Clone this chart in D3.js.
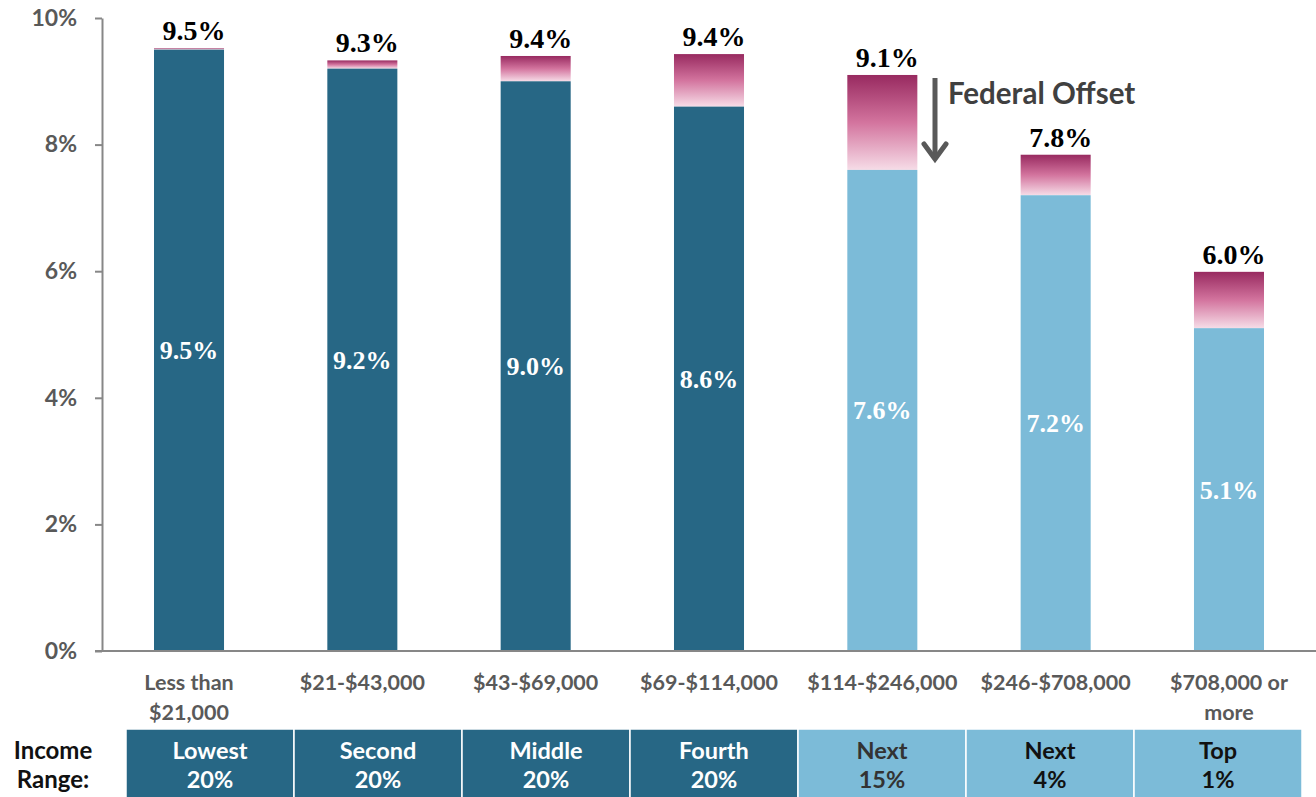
<!DOCTYPE html>
<html>
<head>
<meta charset="utf-8">
<script src="https://cdn.jsdelivr.net/npm/d3@7"></script>
<style>
	body { margin: 0; background: #fff; }
	svg { display: block; }
</style>
</head>
<body>
<svg id="chart" width="1316" height="797"></svg>
<script>
//Data
const CATEGORIES = ["Less than|$21,000", "$21-$43,000", "$43-$69,000", "$69-$114,000", "$114-$246,000", "$246-$708,000", "$708,000 or|more"];
const BASE_RATE = [9.5, 9.2, 9.0, 8.6, 7.6, 7.2, 5.1];
const TOTAL_RATE = [9.52, 9.33, 9.4, 9.43, 9.1, 7.84, 5.99];
const GROUP_NAME = ["Lowest", "Second", "Middle", "Fourth", "Next", "Next", "Top"];
const GROUP_SHARE = ["20%", "20%", "20%", "20%", "15%", "4%", "1%"];
const Y_TICKS = [0, 2, 4, 6, 8, 10];

const DARK = "#276785";
const LIGHT = "#7cbbd8";
const AXIS_GRAY = "#878787";
const TEXT_GRAY = "#595959";
const SANS = "Lato, 'Open Sans', sans-serif";
const SERIF = "'Liberation Serif', 'DejaVu Serif', serif";

const data = CATEGORIES.map(function (c, i) {
	return { cat: c, base: BASE_RATE[i], total: TOTAL_RATE[i], dark: i < 4, name: GROUP_NAME[i], share: GROUP_SHARE[i] };
});

const svg = d3.select("#chart");

const x = d3.scaleBand()
	.domain(CATEGORIES)
	.range([102, 1316])
	.paddingInner(0.596)
	.paddingOuter(0.3);

const y = d3.scaleLinear().domain([0, 10]).range([651, 18]);

// gradient for the federal offset part
const grad = svg.append("defs").append("linearGradient")
	.attr("id", "offset")
	.attr("x1", 0).attr("y1", 0).attr("x2", 0).attr("y2", 1);
grad.append("stop").attr("offset", "0%").attr("stop-color", "#982a60");
grad.append("stop").attr("offset", "50%").attr("stop-color", "#d3749e");
grad.append("stop").attr("offset", "100%").attr("stop-color", "#f6dce7");

// y axis
const yAxis = svg.append("g")
	.attr("transform", "translate(102,0)")
	.call(d3.axisLeft(y).tickValues(Y_TICKS).tickSize(7).tickSizeOuter(0).tickFormat(function (d) { return d + "%"; }));
yAxis.select(".domain").attr("stroke", AXIS_GRAY).attr("stroke-width", 2);
yAxis.selectAll(".tick line").attr("stroke", AXIS_GRAY).attr("stroke-width", 2);
yAxis.selectAll(".tick text")
	.attr("x", -25)
	.attr("fill", TEXT_GRAY)
	.style("font-family", SANS)
	.style("font-size", "23px")
	.style("font-weight", "bold");

// bars
const bars = svg.append("g");
bars.selectAll(".top")
	.data(data)
	.enter().append("rect")
	.attr("x", function (d) { return x(d.cat); })
	.attr("y", function (d) { return y(d.total); })
	.attr("width", x.bandwidth())
	.attr("height", function (d) { return y(d.base) - y(d.total); })
	.attr("fill", "url(#offset)");

bars.selectAll(".base")
	.data(data)
	.enter().append("rect")
	.attr("x", function (d) { return x(d.cat); })
	.attr("y", function (d) { return y(d.base); })
	.attr("width", x.bandwidth())
	.attr("height", function (d) { return y(0) - y(d.base); })
	.attr("fill", function (d) { return d.dark ? DARK : LIGHT; });

// x axis baseline
svg.append("line")
	.attr("x1", 95).attr("x2", 1316)
	.attr("y1", y(0)).attr("y2", y(0))
	.attr("stroke", AXIS_GRAY).attr("stroke-width", 2);

// labels
bars.selectAll(".inner")
	.data(data)
	.enter().append("text")
	.attr("x", function (d) { return x(d.cat) + x.bandwidth() / 2; })
	.attr("y", function (d) { return (y(d.base) + y(0)) / 2 + 9; })
	.attr("text-anchor", "middle")
	.attr("fill", "#fff")
	.style("font-family", SERIF)
	.style("font-size", "26px")
	.style("font-weight", "bold")
	.text(function (d) { return d.base.toFixed(1) + "%"; });

bars.selectAll(".total")
	.data(data)
	.enter().append("text")
	.attr("x", function (d) { return x(d.cat) + x.bandwidth() / 2 + 5; })
	.attr("y", function (d) { return y(d.total) - 8; })
	.attr("text-anchor", "middle")
	.attr("fill", "#000")
	.style("font-family", SERIF)
	.style("font-size", "28px")
	.style("font-weight", "bold")
	.text(function (d) { return d.total.toFixed(1) + "%"; });

// category labels
const catText = svg.append("g").selectAll("text")
	.data(data)
	.enter().append("text")
	.attr("x", function (d) { return x(d.cat) + x.bandwidth() / 2; })
	.attr("y", 690)
	.attr("text-anchor", "middle")
	.attr("fill", TEXT_GRAY)
	.style("font-family", SANS)
	.style("font-size", "21.5px")
	.style("font-weight", "bold");
catText.each(function (d) {
	const lines = d.cat.split("|");
	const t = d3.select(this);
	lines.forEach(function (l, k) {
		t.append("tspan")
			.attr("x", x(d.cat) + x.bandwidth() / 2)
			.attr("dy", k === 0 ? 0 : 30)
			.text(l);
	});
});

// income range table
const cells = d3.scaleBand().domain(CATEGORIES).range([126, 1302]);
const table = svg.append("g");
table.selectAll("rect")
	.data(data)
	.enter().append("rect")
	.attr("x", function (d) { return cells(d.cat); })
	.attr("y", 729)
	.attr("width", cells.bandwidth())
	.attr("height", 70)
	.attr("fill", function (d) { return d.dark ? DARK : LIGHT; })
	.attr("stroke", "#fff")
	.attr("stroke-width", 1.5);

const cellText = table.selectAll("text")
	.data(data)
	.enter().append("text")
	.attr("text-anchor", "middle")
	.attr("fill", function (d, i) { return d.dark ? "#fff" : (i === 4 ? "#333" : "#111"); })
	.style("font-family", SANS)
	.style("font-size", "23.5px")
	.style("font-weight", "bold");
cellText.append("tspan")
	.attr("x", function (d) { return cells(d.cat) + cells.bandwidth() / 2; })
	.attr("y", 759)
	.text(function (d) { return d.name; });
cellText.append("tspan")
	.attr("x", function (d) { return cells(d.cat) + cells.bandwidth() / 2; })
	.attr("y", 788)
	.text(function (d) { return d.share; });

const rangeLabel = svg.append("text")
	.attr("text-anchor", "middle")
	.attr("fill", "#111")
	.style("font-family", SANS)
	.style("font-size", "24px")
	.style("font-weight", "bold");
rangeLabel.append("tspan").attr("x", 53).attr("y", 759).text("Income");
rangeLabel.append("tspan").attr("x", 53).attr("y", 788).text("Range:");

// federal offset annotation
const ann = svg.append("g");
ann.append("line")
	.attr("x1", 935).attr("x2", 935)
	.attr("y1", 78).attr("y2", 158)
	.attr("stroke", TEXT_GRAY).attr("stroke-width", 5);
ann.append("path")
	.attr("d", "M924,144 L935,159 L946,144")
	.attr("fill", "none")
	.attr("stroke", TEXT_GRAY).attr("stroke-width", 5)
	.attr("stroke-linecap", "round");
ann.append("text")
	.attr("x", 948).attr("y", 104)
	.attr("fill", "#404040")
	.style("font-family", SANS)
	.style("font-size", "29.5px")
	.style("font-weight", "bold")
	.text("Federal Offset");
</script>
</body>
</html>
